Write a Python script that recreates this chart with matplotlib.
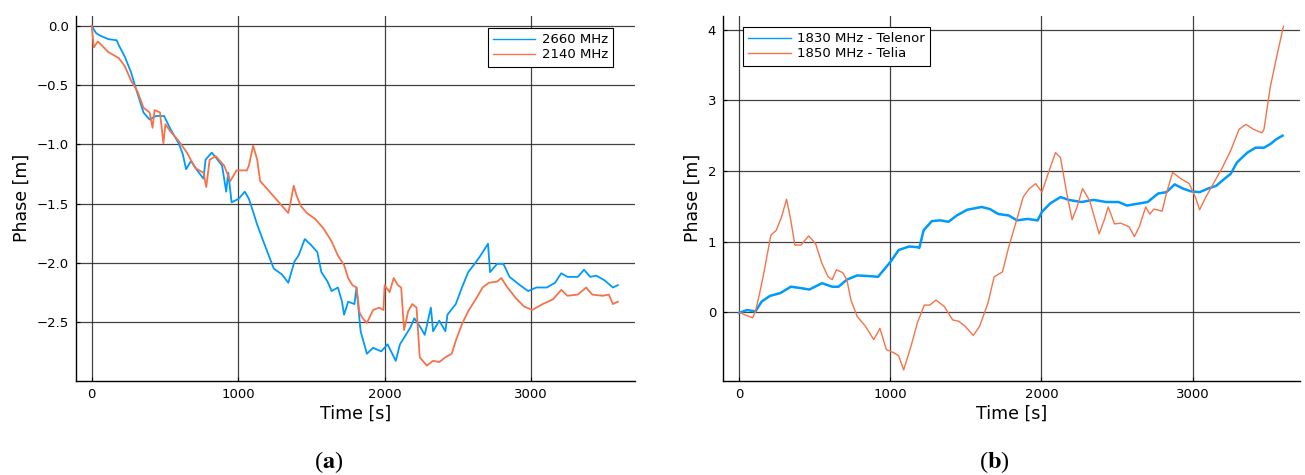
import matplotlib
matplotlib.use("Agg")
import matplotlib.pyplot as plt

# --- (a) 2660 / 2140 MHz ---
t_a_blue = [0, 30, 56, 113, 170, 184, 226, 268, 297, 325, 353, 395, 438, 494, 537, 593, 621, 644,
            678, 720, 763, 777, 819, 847, 890, 918, 932, 955, 1003, 1045, 1073, 1102, 1130,
            1172, 1215, 1243, 1299, 1342, 1384, 1412, 1455, 1497, 1540, 1568, 1610, 1638,
            1681, 1709, 1723, 1751, 1794, 1808, 1836, 1879, 1921, 1977, 2020, 2076, 2105,
            2175, 2203, 2246, 2274, 2316, 2331, 2373, 2415, 2429, 2486, 2528, 2571, 2627,
            2655, 2706, 2720, 2768, 2811, 2853, 2924, 2980, 3037, 3107, 3164, 3206, 3249,
            3319, 3362, 3404, 3446, 3503, 3559, 3593]
v_a_blue = [0.0, -0.06, -0.08, -0.11, -0.12, -0.16, -0.26, -0.39, -0.51, -0.62, -0.73, -0.79,
            -0.76, -0.76, -0.87, -0.99, -1.08, -1.21, -1.14, -1.22, -1.29, -1.13, -1.07, -1.11,
            -1.18, -1.40, -1.24, -1.49, -1.46, -1.40, -1.46, -1.57, -1.68, -1.82, -1.96, -2.05,
            -2.10, -2.17, -1.99, -1.94, -1.80, -1.85, -1.91, -2.08, -2.16, -2.24, -2.21, -2.33,
            -2.44, -2.33, -2.35, -2.21, -2.58, -2.77, -2.72, -2.75, -2.69, -2.83, -2.69, -2.55,
            -2.47, -2.55, -2.61, -2.38, -2.58, -2.49, -2.58, -2.44, -2.35, -2.21, -2.08, -1.99,
            -1.94, -1.84, -2.08, -2.01, -2.01, -2.12, -2.19, -2.24, -2.21, -2.21, -2.17, -2.09,
            -2.12, -2.12, -2.06, -2.12, -2.11, -2.15, -2.21, -2.19]

t_a_orange = [0, 14, 42, 113, 184, 226, 268, 311, 353, 395, 415, 429, 466, 489, 503, 537, 593,
              650, 706, 763, 782, 805, 847, 904, 946, 989, 1059, 1073, 1102, 1130, 1150, 1200,
              1257, 1299, 1342, 1356, 1379, 1398, 1427, 1469, 1525, 1582, 1638, 1681, 1723,
              1751, 1780, 1808, 1828, 1850, 1879, 1921, 1963, 1992, 2000, 2034, 2062, 2090,
              2113, 2133, 2161, 2189, 2218, 2240, 2288, 2331, 2373, 2415, 2458, 2486, 2528,
              2571, 2627, 2669, 2712, 2768, 2797, 2839, 2896, 2952, 3008, 3079, 3150, 3206,
              3249, 3319, 3376, 3418, 3489, 3531, 3559, 3593]
v_a_orange = [0.0, -0.18, -0.13, -0.22, -0.27, -0.34, -0.46, -0.55, -0.69, -0.73, -0.86, -0.71,
              -0.73, -0.99, -0.83, -0.89, -0.97, -1.07, -1.20, -1.24, -1.36, -1.13, -1.10, -1.18,
              -1.31, -1.22, -1.22, -1.18, -1.01, -1.13, -1.31, -1.38, -1.46, -1.52, -1.58, -1.50,
              -1.35, -1.43, -1.52, -1.58, -1.63, -1.71, -1.82, -1.94, -2.02, -2.13, -2.19, -2.21,
              -2.42, -2.47, -2.51, -2.40, -2.38, -2.40, -2.19, -2.25, -2.13, -2.19, -2.21, -2.57,
              -2.41, -2.35, -2.38, -2.80, -2.87, -2.83, -2.84, -2.80, -2.77, -2.66, -2.52, -2.41,
              -2.30, -2.21, -2.17, -2.16, -2.13, -2.21, -2.30, -2.37, -2.40, -2.35, -2.31, -2.23,
              -2.28, -2.27, -2.21, -2.27, -2.28, -2.27, -2.35, -2.33]

# --- (b) 1830 MHz Telenor / 1850 MHz Telia ---
t_b_blue = [0, 52, 107, 148, 203, 272, 341, 409, 464, 547, 615, 657, 712, 780, 863, 918, 1000,
            1055, 1124, 1179, 1192, 1220, 1275, 1330, 1385, 1440, 1508, 1604, 1659, 1714, 1783,
            1838, 1907, 1975, 2003, 2058, 2126, 2181, 2264, 2346, 2429, 2511, 2566, 2648, 2703,
            2772, 2827, 2882, 2937, 2992, 3047, 3102, 3157, 3212, 3253, 3294, 3363, 3418, 3473,
            3514, 3555, 3596]
v_b_blue = [-0.01, 0.03, 0.01, 0.15, 0.23, 0.27, 0.36, 0.34, 0.32, 0.41, 0.36, 0.36, 0.46, 0.52,
            0.51, 0.50, 0.71, 0.88, 0.93, 0.92, 0.91, 1.16, 1.29, 1.30, 1.28, 1.37, 1.45, 1.49,
            1.46, 1.39, 1.37, 1.30, 1.32, 1.30, 1.42, 1.54, 1.63, 1.59, 1.56, 1.59, 1.56, 1.56,
            1.51, 1.54, 1.56, 1.68, 1.70, 1.81, 1.75, 1.71, 1.70, 1.75, 1.79, 1.89, 1.96, 2.12,
            2.26, 2.33, 2.33, 2.38, 2.45, 2.50]

t_b_orange = [0, 38, 88, 107, 135, 162, 209, 245, 280, 313, 341, 368, 409, 459, 505, 547, 588,
              615, 643, 684, 712, 739, 780, 835, 890, 931, 973, 1027, 1055, 1088, 1137, 1179,
              1225, 1261, 1302, 1357, 1412, 1453, 1495, 1549, 1591, 1646, 1687, 1742, 1783, 1838,
              1879, 1920, 1962, 2003, 2044, 2093, 2126, 2168, 2203, 2236, 2272, 2319, 2382, 2415,
              2442, 2484, 2525, 2580, 2615, 2648, 2690, 2717, 2745, 2799, 2827, 2868, 2923, 2978,
              3019, 3047, 3088, 3143, 3198, 3253, 3308, 3354, 3404, 3459, 3473, 3514, 3555, 3602]
v_b_orange = [0.0, -0.04, -0.08, 0.01, 0.27, 0.55, 1.09, 1.16, 1.35, 1.60, 1.30, 0.95, 0.95, 1.08,
              0.97, 0.69, 0.50, 0.46, 0.60, 0.56, 0.46, 0.17, -0.06, -0.20, -0.39, -0.23, -0.53,
              -0.58, -0.62, -0.82, -0.48, -0.15, 0.10, 0.10, 0.17, 0.08, -0.11, -0.13, -0.20,
              -0.33, -0.20, 0.13, 0.50, 0.57, 0.92, 1.32, 1.63, 1.75, 1.82, 1.70, 1.96, 2.26, 2.19,
              1.68, 1.31, 1.49, 1.75, 1.58, 1.11, 1.30, 1.49, 1.25, 1.26, 1.21, 1.07, 1.21, 1.49,
              1.39, 1.46, 1.43, 1.68, 1.98, 1.89, 1.82, 1.63, 1.45, 1.63, 1.84, 2.05, 2.29, 2.59,
              2.66, 2.59, 2.54, 2.59, 3.18, 3.60, 4.05]

BLUE = '#009af9'
ORANGE = '#f5734a'
GRID = '#222222'

plt.rcParams['font.family'] = 'DejaVu Sans'
plt.rcParams['mathtext.fontset'] = 'stix'

fig = plt.figure(figsize=(13.05, 4.75), dpi=100)
ax1 = fig.add_axes([0.0582, 0.198, 0.4284, 0.769])
ax2 = fig.add_axes([0.554, 0.198, 0.442, 0.769])


def style(ax):
    ax.spines['top'].set_visible(False)
    ax.spines['right'].set_visible(False)
    for s in ('left', 'bottom'):
        ax.spines[s].set_linewidth(1.0)
        ax.spines[s].set_color('black')
    ax.grid(True, color=GRID, linewidth=0.9, alpha=0.85)
    ax.set_axisbelow(True)
    ax.tick_params(direction='in', length=3, width=0.8, labelsize=9.5, pad=5)
    ax.set_xticks([0, 1000, 2000, 3000])
    ax.set_xlabel('Time [s]', fontsize=12.5, labelpad=3)
    ax.set_ylabel('Phase [m]', fontsize=12.5, labelpad=4)


def add_legend(ax, loc, anchor):
    leg = ax.legend(loc=loc, bbox_to_anchor=anchor, borderaxespad=0,
                    fontsize=9.5, fancybox=False, framealpha=1, edgecolor='black',
                    handlelength=3.2, handletextpad=0.5, borderpad=0.4, labelspacing=0.15)
    leg.get_frame().set_linewidth(0.8)
    for line in leg.get_lines():
        line.set_linewidth(1.0)


ax1.plot(t_a_blue, v_a_blue, color=BLUE, lw=1.3, label='2660 MHz')
ax1.plot(t_a_orange, v_a_orange, color=ORANGE, lw=1.3, label='2140 MHz')
ax1.set_xlim(-108, 3710)
ax1.set_ylim(-3.0, 0.088)
ax1.set_yticks([0.0, -0.5, -1.0, -1.5, -2.0, -2.5])
ax1.set_yticklabels(['0.0', '\u22120.5', '\u22121.0', '\u22121.5', '\u22122.0', '\u22122.5'])
style(ax1)
add_legend(ax1, 'upper right', (0.961, 0.966))

ax2.plot(t_b_blue, v_b_blue, color=BLUE, lw=1.8, label='1830 MHz - Telenor')
ax2.plot(t_b_orange, v_b_orange, color=ORANGE, lw=1.0, label='1850 MHz - Telia')
ax2.set_xlim(-108, 3710)
ax2.set_ylim(-0.975, 4.2)
ax2.set_yticks([0, 1, 2, 3, 4])
style(ax2)
add_legend(ax2, 'upper left', (0.035, 0.969))

fig.text(329 / 1305, 1 - 462 / 475, r'($\mathbf{a}$)', ha='center', va='center',
         fontsize=17.5, family='Liberation Serif')
fig.text(994 / 1305, 1 - 462 / 475, r'($\mathbf{b}$)', ha='center', va='center',
         fontsize=17.5, family='Liberation Serif')

fig.savefig('out.png', dpi=100)
